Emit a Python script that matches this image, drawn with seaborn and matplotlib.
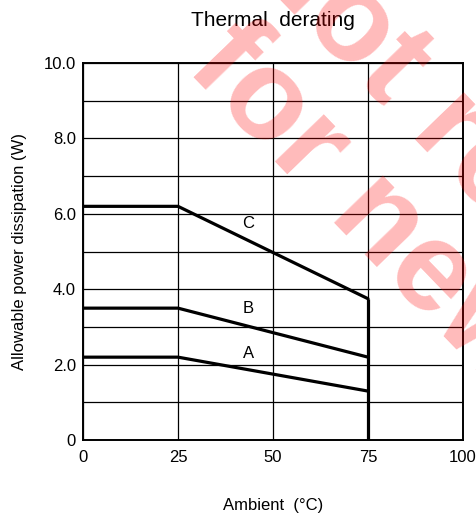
import matplotlib
matplotlib.use("Agg")
import matplotlib.pyplot as plt
import seaborn as sns
import pandas as pd
import numpy as np

# derating curves
ambient = [0, 25, 75]
curve_a = [2.2, 2.2, 1.3]
curve_b = [3.5, 3.5, 2.2]
curve_c = [6.2, 6.2, 3.75]
curve_names = ["A", "B", "C"]
label_pos = [(43.5, 2.3), (43.5, 3.5), (43.5, 5.75)]
x_ticks = [0, 25, 50, 75, 100]
y_ticks = [0, 2, 4, 6, 8, 10]
y_tick_labels = ["0", "2.0", "4.0", "6.0", "8.0", "10.0"]

sns.set_style("white")
plt.rcParams["font.family"] = ["Liberation Sans", "DejaVu Sans"]
plt.rcParams["text.color"] = "black"
plt.rcParams["axes.labelcolor"] = "black"
plt.rcParams["xtick.color"] = "black"
plt.rcParams["ytick.color"] = "black"

df = pd.DataFrame({
    "ambient": ambient * 3,
    "power": curve_a + curve_b + curve_c,
    "curve": np.repeat(curve_names, len(ambient)),
})

fig = plt.figure(figsize=(4.76, 5.19), dpi=100)
ax = fig.add_axes([0.1744, 0.152, 0.7983, 0.7265])

for name in curve_names:
    sub = df[df["curve"] == name]
    sns.lineplot(data=sub, x="ambient", y="power", color="black", lw=2.3,
                 ax=ax, legend=False, zorder=3)
# shutdown edge at 75 degC
ax.vlines(ambient[-1], 0, curve_c[-1], color="black", lw=2.3, zorder=3)

for name, (lx, ly) in zip(curve_names, label_pos):
    ax.text(lx, ly, name, fontsize=12, ha="center", va="center")

ax.set_xlim(0, 100)
ax.set_ylim(0, 10)
ax.set_xticks(x_ticks)
ax.set_yticks(y_ticks)
ax.set_yticklabels(y_tick_labels)
ax.set_yticks(np.arange(0, 10, 1.0), minor=True)
ax.grid(True, which="both", color="black", lw=0.9)
ax.tick_params(axis="both", which="both", length=0, labelsize=12)
ax.tick_params(axis="x", pad=7)
ax.tick_params(axis="y", pad=5)
for s in ax.spines.values():
    s.set_color("black")
    s.set_linewidth(1.4)

ax.set_xlabel("Ambient  (°C)", fontsize=12, labelpad=24)
ax.set_ylabel("Allowable power dissipation (W)", fontsize=12, labelpad=12)
ax.set_title("Thermal  derating", fontsize=15, pad=27)

# watermark
wm = dict(fontsize=92, fontweight="bold", color="red", alpha=0.27,
          rotation=-46, rotation_mode="anchor", ha="left", va="baseline",
          zorder=10)
fig.text(0.496, 1.089, "Not recommended", **wm)
fig.text(0.388, 0.868, "for new design", **wm)

fig.savefig("out.png", dpi=100)
